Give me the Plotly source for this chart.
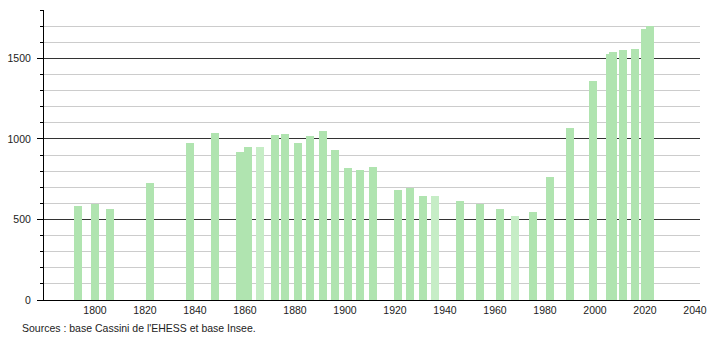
import plotly.graph_objects as go

years = [1793, 1800, 1806, 1822, 1838, 1848, 1858, 1861, 1866, 1872, 1876, 1881,
         1886, 1891, 1896, 1901, 1906, 1911, 1921, 1926, 1931, 1936, 1946, 1954,
         1962, 1968, 1975, 1982, 1990, 1999, 2006, 2007, 2011, 2016, 2020, 2022]
population = [583, 596, 563, 724, 975, 1035, 920, 948, 948, 1024, 1030, 976,
              1018, 1048, 931, 817, 807, 824, 684, 693, 647, 643, 615, 594,
              564, 519, 547, 762, 1068, 1359, 1527, 1541, 1552, 1558, 1682, 1701]
faded_years = [1866, 1936, 1968]

y_ticks = [0, 500, 1000, 1500]
x_ticks = [1800, 1820, 1840, 1860, 1880, 1900, 1920, 1940, 1960, 1980, 2000, 2020, 2040]
source_text = "Sources : base Cassini de l'EHESS et base Insee."

bar_color = "rgb(176,228,176)"
faded_color = "rgb(198,237,198)"
colors = [faded_color if y in faded_years else bar_color for y in years]

fig = go.Figure()
fig.add_trace(go.Bar(
    x=years, y=population, width=3.2,
    marker=dict(color=colors, line=dict(width=0)),
    hoverinfo="x+y",
))

font_family = "Liberation Sans, Arial, sans-serif"

fig.update_layout(
    width=710, height=340,
    margin=dict(l=44, r=10, t=10, b=40, autoexpand=False),
    paper_bgcolor="white", plot_bgcolor="white",
    showlegend=False,
    font=dict(family=font_family, size=10.5, color="#222"),
    bargap=0,
    xaxis=dict(
        range=[1779.6, 2042], tickvals=x_ticks, ticktext=[str(v) for v in x_ticks],
        showgrid=False, zeroline=False, showline=True, linecolor="black", linewidth=1,
        ticks="", ticklen=0, automargin=False,
    ),
    yaxis=dict(
        range=[0, 1800], tickvals=y_ticks, ticktext=[str(v) for v in y_ticks],
        showgrid=True, gridcolor="#333", gridwidth=1, zeroline=False,
        showline=True, linecolor="black", linewidth=1,
        ticks="outside", ticklen=6, tickcolor="black", ticklabelstandoff=4,
        automargin=False,
        minor=dict(dtick=100, showgrid=True, gridcolor="#cccccc", gridwidth=1,
                   ticks="outside", ticklen=3, tickcolor="black"),
    ),
    annotations=[dict(
        text=source_text, xref="paper", yref="paper",
        x=-0.0366, y=-0.0966, xanchor="left", yanchor="middle",
        showarrow=False, font=dict(family=font_family, size=10.5, color="#222"),
    )],
)

fig.write_html("out.html")
